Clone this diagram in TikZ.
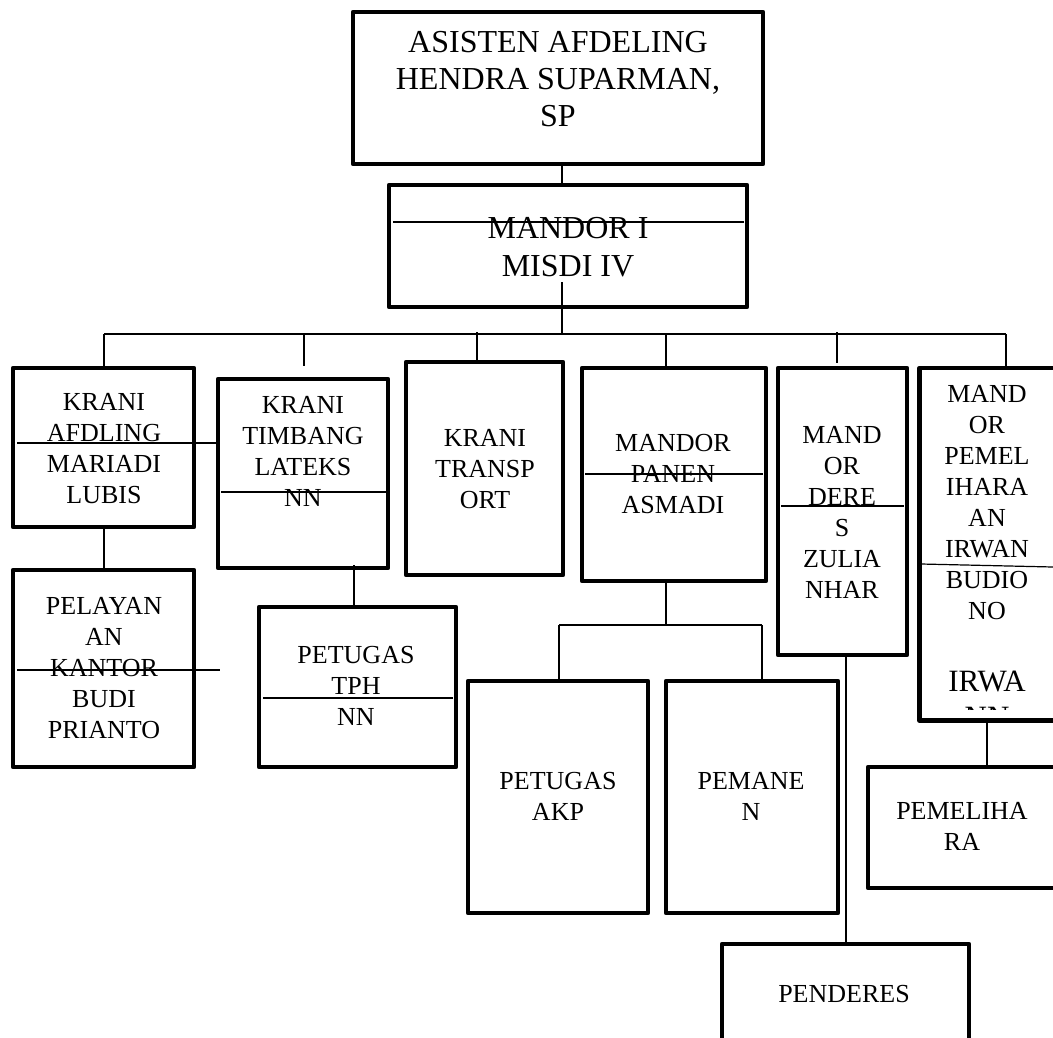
\documentclass[tikz,border=0pt]{standalone}
\usepackage{fontspec}
\setmainfont{Liberation Serif}
\begin{document}
\begin{tikzpicture}[x=1pt,y=-1pt,
  box/.style={draw, line width=4.3pt, line join=round, inner sep=0pt, outer sep=0pt},
  conn/.style={line width=1.2pt},
  stray/.style={line width=1.2pt},
  txt/.style={anchor=north, inner sep=0pt, align=center, font=\fontsize{26}{31}\selectfont},
  bigtxt/.style={txt, font=\fontsize{32}{37}\selectfont}]
\useasboundingbox (0,0) rectangle (1053,1037);
\clip (0,0) rectangle (1053,1037);

% boxes
\node[box, minimum width=410pt, minimum height=152pt] (top) at (558,88) {};
\node[box, minimum width=358pt, minimum height=122pt] (m1) at (568,246) {};
\node[box, minimum width=181pt, minimum height=159pt] (b1) at (103.5,447.5) {};
\node[box, minimum width=170pt, minimum height=189pt] (b2) at (303,473.5) {};
\node[box, minimum width=157pt, minimum height=213pt] (b3) at (484.5,468.5) {};
\node[box, minimum width=184pt, minimum height=213pt] (b4) at (674,474.5) {};
\node[box, minimum width=129pt, minimum height=287pt] (b5) at (842.5,511.5) {};
\node[box, minimum width=138pt, minimum height=352.5pt] (b6) at (988.5,544.25) {};
\node[box, minimum width=181pt, minimum height=197pt] (pel) at (103.5,668.5) {};
\node[box, minimum width=197pt, minimum height=160pt] (tph) at (357.5,687) {};
\node[box, minimum width=180pt, minimum height=232pt] (akp) at (558,797) {};
\node[box, minimum width=172pt, minimum height=232pt] (pmn) at (752,797) {};
\node[box, minimum width=189pt, minimum height=121pt] (pml) at (962.5,827.5) {};
\node[box, minimum width=247pt, minimum height=116pt] (pnd) at (845.5,1002) {};

% texts
\node[bigtxt] (ttop) at (558,31.5) {ASISTEN AFDELING\\HENDRA SUPARMAN,\\SP};
\node[bigtxt, font=\fontsize{32}{38}\selectfont] (tm1) at (568,217.5) {MANDOR I\\MISDI IV};
\node[txt] (tb1) at (104,393.5) {KRANI\\AFDLING\\MARIADI\\LUBIS};
\node[txt] (tb2) at (303,396.5) {KRANI\\TIMBANG\\LATEKS\\NN};
\node[txt] (tb3) at (485,429.5) {KRANI\\TRANSP\\ORT};
\node[txt] (tb4) at (673,434.5) {MANDOR\\PANEN\\ASMADI};
\node[txt] (tb5) at (842,426.5) {MAND\\OR\\DERE\\S\\ZULIA\\NHAR};
\node[txt] (tb6) at (987,385.5) {MAND\\OR\\PEMEL\\IHARA\\AN\\IRWAN\\BUDIO\\NO};
\begin{scope}
  \clip (920,600) rectangle (1053,709.5);
  \node[txt, font=\fontsize{31}{36}\selectfont] (tb6b) at (987,671.2) {IRWA\\NN};
\end{scope}
\node[txt] (tpel) at (104,597.5) {PELAYAN\\AN\\KANTOR\\BUDI\\PRIANTO};
\node[txt] (ttph) at (356,646.5) {PETUGAS\\TPH\\NN};
\node[txt] (takp) at (558,772.5) {PETUGAS\\AKP};
\node[txt] (tpmn) at (751,772.5) {PEMANE\\N};
\node[txt] (tpml) at (962,802.5) {PEMELIHA\\RA};
\node[txt] (tpnd) at (844,985.5) {PENDERES};

% stray thin lines
\draw[stray] (393,222) -- (744,222);
\draw[stray] (17,443) -- (217,443);
\draw[stray] (221,492) -- (387,492);
\draw[stray] (585,474) -- (763,474);
\draw[stray] (781,506) -- (904,506);
\draw[stray] (921,564) -- (1053,567);
\draw[stray] (17,670) -- (220,670);
\draw[stray] (263,698) -- (453,698);

% connectors
\coordinate (trunk) at (562,282);
\coordinate (busL) at (104,334);
\coordinate (busR) at (1006,334);
\coordinate (d2) at (304,366);
\coordinate (d5) at (837,363);
\coordinate (sub) at (666,625);
\draw[conn] (562,0 |- top.south) -- (562,0 |- m1.north);
\draw[conn] (trunk) -- (trunk |- busL);
\draw[conn] (busL) -- (busR);
\draw[conn] (busL) -- (busL |- b1.north);
\draw[conn] (d2 |- busL) -- (d2);
\draw[conn] (477,332) -- (477,0 |- b3.north);
\draw[conn] (666,0 |- busL) -- (666,0 |- b4.north);
\draw[conn] (837,332) -- (d5);
\draw[conn] (busR) -- (busR |- b6.north);
\draw[conn] (104,0 |- b1.south) -- (104,0 |- pel.north);
\draw[conn] (354,565) -- (354,0 |- tph.north);
\draw[conn] (666,0 |- b4.south) -- (sub);
\draw[conn] (559,625) -- (762,625);
\draw[conn] (559,625) -- (559,0 |- akp.north);
\draw[conn] (762,625) -- (762,0 |- pmn.north);
\draw[conn] (846,0 |- b5.south) -- (846,0 |- pnd.north);
\draw[conn] (987,0 |- b6.south) -- (987,0 |- pml.north);
\end{tikzpicture}
\end{document}
